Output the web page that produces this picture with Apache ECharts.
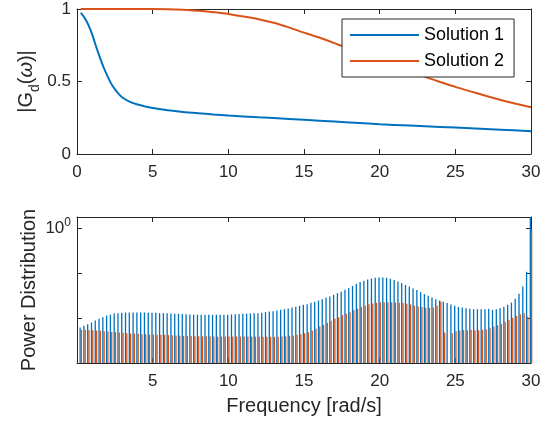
<!DOCTYPE html>
<html>
<head>
<meta charset="utf-8">
<script src="https://cdn.jsdelivr.net/npm/echarts@6/dist/echarts.min.js"></script>
<style>
  html, body { margin: 0; padding: 0; background: #fff; }
  #chart { width: 548px; height: 424px; }
</style>
</head>
<body>
<div id="chart"></div>
<script>
// ---- Frequency response magnitude |Gd(w)| ----
const freqSol1 = [0.25, 0.5, 0.75, 1, 1.25, 1.5, 1.75, 2, 2.25, 2.5, 2.75, 3, 3.5, 4, 4.5, 5, 6, 7, 8, 9, 10, 12, 14, 16, 18, 20, 22, 24, 26, 28, 30];
const gainSol1 = [0.973, 0.94, 0.89, 0.825, 0.745, 0.67, 0.6, 0.54, 0.487, 0.447, 0.415, 0.39, 0.36, 0.341, 0.328, 0.318, 0.302, 0.29, 0.281, 0.273, 0.266, 0.253, 0.242, 0.23, 0.218, 0.206, 0.196, 0.187, 0.178, 0.168, 0.157];

const freqSol2 = [0.25, 1, 2, 3, 4, 5, 6, 7, 8, 9, 10, 11, 12, 13, 14, 15, 16, 17, 18, 19, 20, 21, 22, 23, 24, 25, 26, 27, 28, 29, 30];
const gainSol2 = [1, 1, 1, 1, 1, 1, 0.999, 0.995, 0.988, 0.978, 0.966, 0.948, 0.93, 0.905, 0.873, 0.837, 0.803, 0.765, 0.725, 0.685, 0.645, 0.605, 0.568, 0.532, 0.497, 0.463, 0.432, 0.402, 0.373, 0.347, 0.323];

// ---- Power distribution per frequency bin (0.25 rad/s spacing) ----
const freqBins = [];
for (let k = 1; k <= 120; k++) freqBins.push(k * 0.25);

const powerSol1 = [
  0.00617, 0.00673, 0.00735, 0.00798, 0.00884, 0.00964, 0.01052, 0.01143, 0.01203, 0.01267, 0.01294, 0.01313,
  0.01334, 0.01334, 0.01334, 0.01334, 0.01334, 0.01334, 0.01313, 0.01313, 0.01313, 0.01294, 0.01294,
  0.01279, 0.01267, 0.01259, 0.01247, 0.01236, 0.01222, 0.01211, 0.01197, 0.01191, 0.01186, 0.01186, 0.01186,
  0.01186, 0.01186, 0.01186, 0.01191, 0.01197, 0.01211, 0.01222, 0.01236, 0.01247, 0.01259, 0.01273, 0.01285,
  0.01294, 0.01313, 0.01361, 0.01403, 0.01432, 0.01479, 0.01531, 0.01589, 0.01637, 0.01726, 0.01787, 0.01884,
  0.01982, 0.02053, 0.02198, 0.02312, 0.02472, 0.02655, 0.02838, 0.03034, 0.03311, 0.03614, 0.03864, 0.04285,
  0.04672, 0.0526, 0.0583, 0.0636, 0.0681, 0.0728, 0.0766, 0.0794, 0.0805, 0.0805, 0.0794, 0.0754,
  0.0705, 0.0656, 0.0604, 0.0554, 0.0507, 0.0458, 0.0422, 0.038, 0.0343, 0.0315, 0.0288,
  0.02655, 0.02472, 0.02312, 0.02163, 0.02014, 0.01884, 0.01787, 0.01726, 0.01672, 0.01614, 0.01589, 0.01589,
  0.01589, 0.01589, 0.01614, 0.01531, 0.01589, 0.01672, 0.01787, 0.01982, 0.0223, 0.027, 0.0348, 0.0507,
  0.108, 1.9
];
const powerSol2 = [
  0.00548, 0.00548, 0.0054, 0.0054, 0.00529, 0.00521, 0.00513, 0.00502, 0.00494, 0.00487, 0.00477, 0.0047,
  0.00462, 0.00453, 0.00453, 0.00447, 0.0044, 0.0044, 0.00431, 0.00431, 0.00424, 0.00424, 0.00424,
  0.00418, 0.00413, 0.00409, 0.00406, 0.00403, 0.00403, 0.00398, 0.00396, 0.00396, 0.00393, 0.00393, 0.00393,
  0.00388, 0.00388, 0.00388, 0.00388, 0.00388, 0.00388, 0.00388, 0.00388, 0.00388, 0.00388, 0.00388, 0.00388,
  0.00386, 0.00385, 0.00383, 0.00383, 0.00383, 0.00383, 0.00388, 0.00396, 0.00403, 0.00409, 0.00424, 0.0044,
  0.00462, 0.00487, 0.00529, 0.00577, 0.00649, 0.00708, 0.00785, 0.00871, 0.00964, 0.01052, 0.01167, 0.01247,
  0.01361, 0.0151, 0.01637, 0.01787, 0.0191, 0.02053, 0.02118, 0.02198, 0.02275, 0.02275, 0.02275, 0.02275,
  0.0223, 0.02198, 0.02163, 0.02085, 0.02014, 0.0191, 0.01815, 0.01762, 0.01698, 0.01698, 0.01726,
  0.01884, 0.0235, 0.00477, null, 0.00462, 0.00513, 0.00529, 0.00548, 0.0054, 0.00548, 0.0054, 0.0054,
  0.00548, 0.00568, 0.00598, 0.00649, 0.00698, 0.00746, 0.00826, 0.00916, 0.01016, 0.01125, 0.01228, 0.01294,
  0.01086, 0.935
];

const seriesNames = ['Solution 1', 'Solution 2'];
const BLUE = '#0072BD';
const ORANGE = '#D95319';
const INK = '#262626';
const FONT = '"Liberation Sans", Arial, Helvetica, sans-serif';

const POWER_MIN = 0.001;
const POWER_MAX = 1.8;
const BAR_W = 1.3;

const chart = echarts.init(document.getElementById('chart'), null, { renderer: 'canvas' });

function boxAxis(extra) {
  return Object.assign({
    axisLine: { show: true, onZero: false, lineStyle: { color: INK, width: 1 } },
    axisTick: { show: true, inside: true, length: 5, lineStyle: { color: INK, width: 1 } },
    axisLabel: { show: false },
    splitLine: { show: false },
    nameMoveOverlap: false
  }, extra);
}

const tickLabel = { show: true, color: INK, fontSize: 17, fontFamily: FONT, margin: 10 };

// thin grouped bars drawn through the axis scales
function barRenderer(offset, color) {
  return function (params, api) {
    const v = api.value(1);
    if (!(v > 0)) return null;
    const top = api.coord([api.value(0), Math.min(v, POWER_MAX)]);
    const base = api.coord([api.value(0), POWER_MIN]);
    return {
      type: 'rect',
      shape: { x: top[0] + offset - BAR_W / 2, y: top[1], width: BAR_W, height: base[1] - top[1] },
      style: { fill: color }
    };
  };
}

const option = {
  animation: false,
  backgroundColor: '#ffffff',
  textStyle: { fontFamily: FONT },
  grid: [
    { left: 77, top: 9, width: 454, height: 145 },
    { left: 77, top: 217, width: 454, height: 146 }
  ],
  legend: {
    data: seriesNames,
    orient: 'vertical',
    left: 342,
    top: 19,
    padding: [6, 10, 6, 8],
    itemWidth: 69,
    itemHeight: 2,
    itemGap: 6,
    icon: 'rect',
    backgroundColor: '#ffffff',
    borderColor: INK,
    borderWidth: 1,
    borderRadius: 0,
    textStyle: { fontSize: 18, color: '#000', fontFamily: FONT, lineHeight: 20 }
  },
  xAxis: [
    boxAxis({ gridIndex: 0, type: 'value', position: 'bottom', min: 0, max: 30, interval: 5,
      axisLabel: tickLabel }),
    boxAxis({ gridIndex: 0, type: 'value', position: 'top', min: 0, max: 30, interval: 5 }),
    boxAxis({ gridIndex: 1, type: 'value', position: 'bottom', min: 0, max: 30, interval: 5,
      axisLabel: Object.assign({}, tickLabel, { showMinLabel: false }),
      name: 'Frequency [rad/s]', nameLocation: 'middle', nameGap: 33,
      nameTextStyle: { fontSize: 20, color: INK, fontFamily: FONT } }),
    boxAxis({ gridIndex: 1, type: 'value', position: 'top', min: 0, max: 30, interval: 5 })
  ],
  yAxis: [
    boxAxis({ gridIndex: 0, type: 'value', position: 'left', min: 0, max: 1, interval: 0.5,
      axisLabel: Object.assign({}, tickLabel, { margin: 6 }),
      name: '{a||G}{d|d}{a|(}{w|ω}{a|)|}', nameLocation: 'middle', nameGap: 35,
      nameTextStyle: {
        fontSize: 20, color: INK, fontFamily: FONT,
        rich: {
          a: { fontSize: 20, color: INK, fontFamily: FONT, lineHeight: 32 },
          d: { fontSize: 14, color: INK, fontFamily: FONT, lineHeight: 14, verticalAlign: 'bottom' },
          w: { fontSize: 20, color: INK, fontFamily: FONT, lineHeight: 32, fontStyle: 'italic' }
        }
      } }),
    boxAxis({ gridIndex: 0, type: 'value', position: 'right', min: 0, max: 1, interval: 0.5 }),
    boxAxis({ gridIndex: 1, type: 'log', logBase: 10, position: 'left', min: POWER_MIN, max: POWER_MAX,
      axisLabel: Object.assign({}, tickLabel, {
        margin: 6,
        formatter: function (v) { return Math.abs(v - 1) < 1e-9 ? '{b|10}{s|0}' : ''; },
        rich: {
          b: { fontSize: 17, color: INK, fontFamily: FONT, lineHeight: 24 },
          s: { fontSize: 12, color: INK, fontFamily: FONT, lineHeight: 10, verticalAlign: 'top' }
        }
      }),
      name: 'Power Distribution', nameLocation: 'middle', nameGap: 38,
      nameTextStyle: { fontSize: 20, color: INK, fontFamily: FONT } }),
    boxAxis({ gridIndex: 1, type: 'log', logBase: 10, position: 'right', min: POWER_MIN, max: POWER_MAX })
  ],
  series: [
    {
      name: seriesNames[0], type: 'line', xAxisIndex: 0, yAxisIndex: 0,
      data: freqSol1.map((f, i) => [f, gainSol1[i]]),
      smooth: 0.3, showSymbol: false, symbol: 'none',
      lineStyle: { color: BLUE, width: 2 }, itemStyle: { color: BLUE }
    },
    {
      name: seriesNames[1], type: 'line', xAxisIndex: 0, yAxisIndex: 0,
      data: freqSol2.map((f, i) => [f, gainSol2[i]]),
      smooth: 0.3, showSymbol: false, symbol: 'none',
      lineStyle: { color: ORANGE, width: 2 }, itemStyle: { color: ORANGE }
    },
    {
      type: 'custom', xAxisIndex: 2, yAxisIndex: 2,
      renderItem: barRenderer(-BAR_W / 2, BLUE),
      encode: { x: 0, y: 1 },
      data: freqBins.map((f, i) => [f, powerSol1[i] == null ? '-' : powerSol1[i]])
    },
    {
      type: 'custom', xAxisIndex: 2, yAxisIndex: 2,
      renderItem: barRenderer(BAR_W / 2, ORANGE),
      encode: { x: 0, y: 1 },
      data: freqBins.map((f, i) => [f, powerSol2[i] == null ? '-' : powerSol2[i]])
    }
  ]
};

chart.setOption(option);
</script>
</body>
</html>
